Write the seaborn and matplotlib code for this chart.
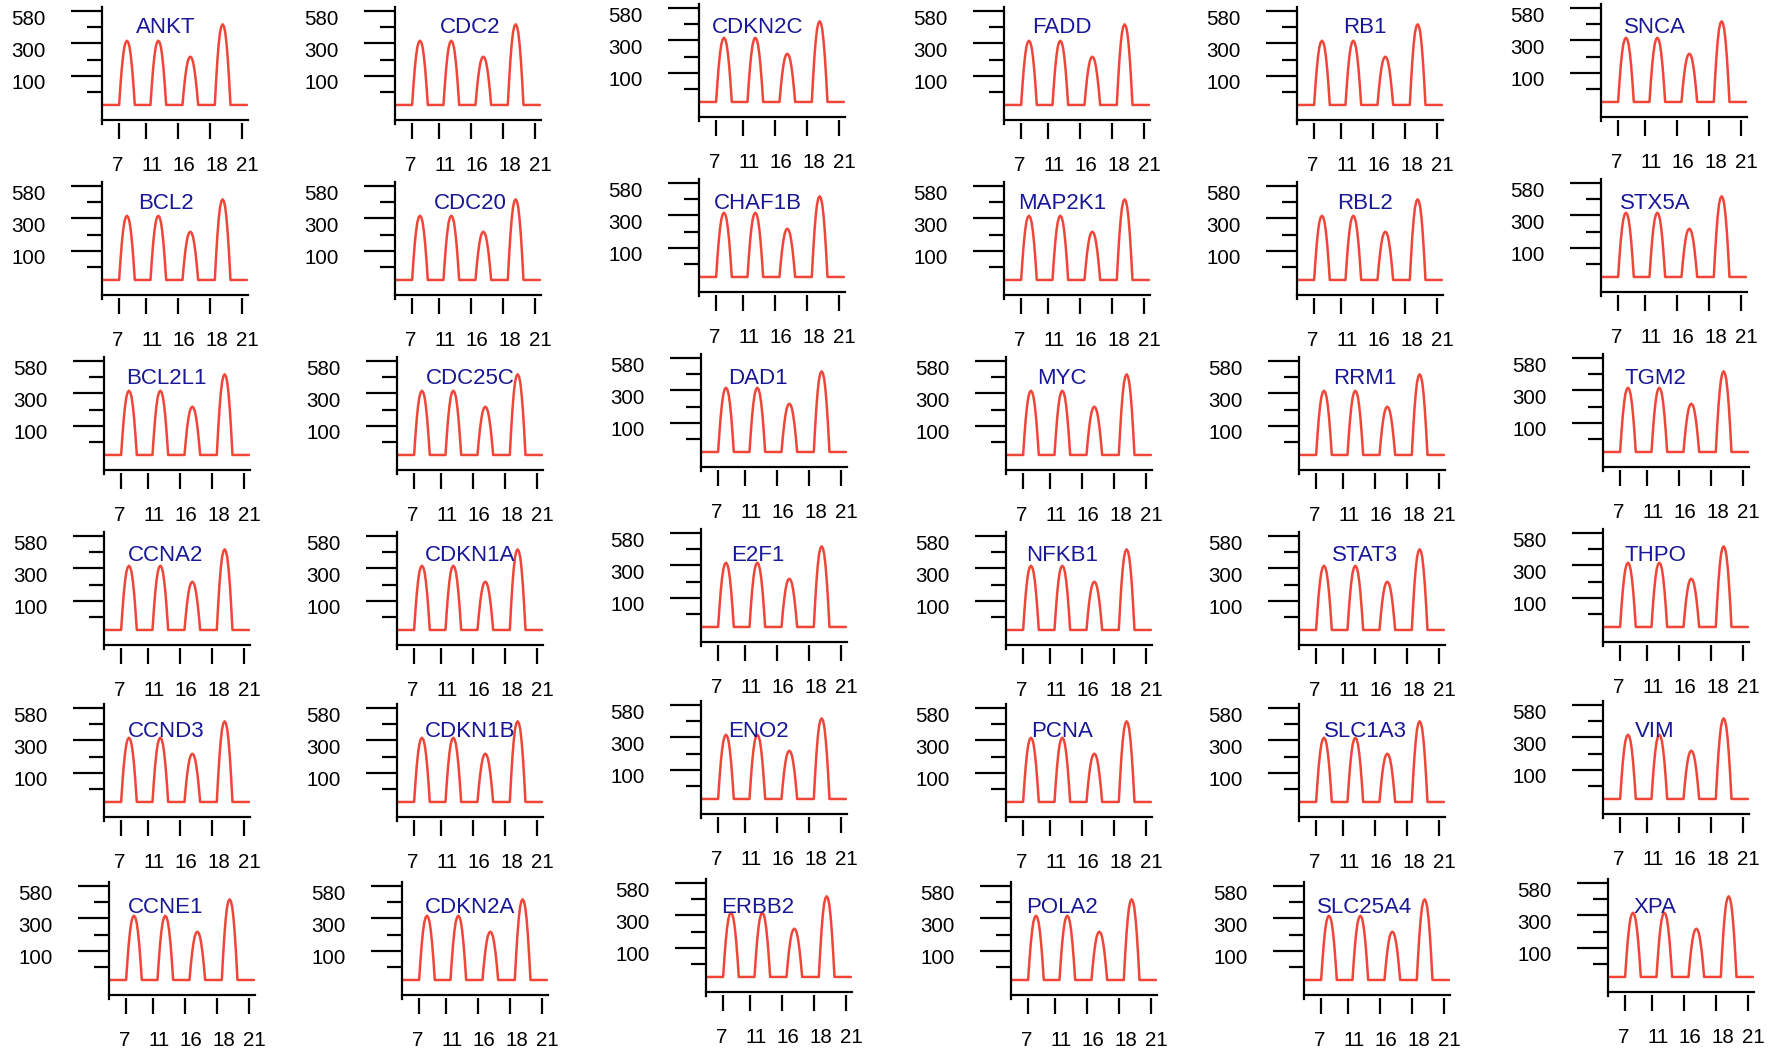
import numpy as np
import pandas as pd
import matplotlib
matplotlib.use("Agg")
import matplotlib.pyplot as plt
from matplotlib.ticker import FixedLocator, NullFormatter
from matplotlib.transforms import ScaledTranslation
import seaborn as sns

# ---------------------------------------------------------------- data
genes = [
    ["ANKT", "BCL2", "BCL2L1", "CCNA2", "CCND3", "CCNE1"],
    ["CDC2", "CDC20", "CDC25C", "CDKN1A", "CDKN1B", "CDKN2A"],
    ["CDKN2C", "CHAF1B", "DAD1", "E2F1", "ENO2", "ERBB2"],
    ["FADD", "MAP2K1", "MYC", "NFKB1", "PCNA", "POLA2"],
    ["RB1", "RBL2", "RRM1", "STAT3", "SLC1A3", "SLC25A4"],
    ["SNCA", "STX5A", "TGM2", "THPO", "VIM", "XPA"],
]
time_labels = ["7", "11", "16", "18", "21"]
y_tick_values = [100, 300, 580]

# expression pulses shared by every gene panel
baseline_level = 0
peak_heights = [323, 323, 218, 465]
peak_centres = [0.78, 1.76, 2.76, 3.77]
trace_start, trace_end = 0.0, 4.53

# outline of one pulse: offset from its centre and fraction of its height
bump_offsets = [-0.245, -0.204, -0.163, -0.122, -0.082, -0.041, 0.0,
                0.041, 0.082, 0.122, 0.163, 0.204, 0.245]
bump_shape = [0.0, 0.30, 0.56, 0.76, 0.90, 0.975, 1.0,
              0.975, 0.90, 0.76, 0.56, 0.30, 0.0]

# evenly spaced value axis: value -> tick step
scale_values = np.array([0.0, 100.0, 300.0, 580.0])
scale_steps = np.array([0.2, 2.0, 4.0, 6.0])


def _piecewise(v, src, dst):
    v = np.asarray(v, dtype=float)
    out = np.interp(v, src, dst)
    lo = dst[0] + (v - src[0]) * (dst[1] - dst[0]) / (src[1] - src[0])
    hi = dst[-1] + (v - src[-1]) * (dst[-1] - dst[-2]) / (src[-1] - src[-2])
    out = np.where(v < src[0], lo, out)
    out = np.where(v > src[-1], hi, out)
    return out


def to_step(v):
    return _piecewise(v, scale_values, scale_steps)


def to_value(s):
    return _piecewise(s, scale_steps, scale_values)


def pulse_profile():
    base = float(to_step(baseline_level))
    xs, steps = [trace_start], [base]
    for c, h in zip(peak_centres, peak_heights):
        top = float(to_step(h))
        for off, frac in zip(bump_offsets, bump_shape):
            xs.append(c + off)
            steps.append(base + frac * (top - base))
    xs.append(trace_end)
    steps.append(base)
    return pd.DataFrame({"time": xs, "expression": to_value(np.array(steps))})


profile = pulse_profile()

# ---------------------------------------------------------------- layout
W, H = 1778, 1050
col_x = [102, 395, 699, 1004, 1297, 1601]
col_dy = [0, 0, -3, 0, 0, -3]
row_y = [120, 295, 470, 645, 817, 995]
row_dx = [0, 0, 2, 2, 2, 7]
title_x = [166, 470, 758, 1062, 1365, 1655]
title_y = [25, 201, 376, 553, 729, 905]
panel_w, panel_h = 146, 113
tick_mark_pos = [0.52, 1.375, 2.366, 3.375, 4.375]
tick_label_pos = [0.49, 1.553, 2.572, 3.584, 4.553]

line_color = "#f0463a"
title_color = "#181896"

sns.set_theme(style="white")
plt.rcParams["font.family"] = ["Liberation Sans", "DejaVu Sans"]
plt.rcParams["axes.linewidth"] = 1.6

fig = plt.figure(figsize=(W / 100, H / 100), dpi=100)
label_shift = ScaledTranslation(0, -6 / 100, fig.dpi_scale_trans)

for c in range(6):
    for r in range(6):
        ox = col_x[c] + row_dx[r]
        oy = row_y[r] + col_dy[c]
        ax = fig.add_axes([ox / W, (H - oy) / H, panel_w / W, panel_h / H])
        ax.patch.set_visible(False)
        sns.lineplot(data=profile, x="time", y="expression", ax=ax,
                     color=line_color, linewidth=1.8, sort=False,
                     estimator=None)
        ax.set_yscale("function", functions=(to_step, to_value))
        ax.set_ylim(float(to_value(-0.728)), float(to_value(6.247)))
        ax.set_xlim(0, panel_w / 32)
        ax.set_xlabel("")
        ax.set_ylabel("")
        ax.set_xticks([])

        ax.yaxis.set_major_locator(FixedLocator(y_tick_values))
        ax.yaxis.set_minor_locator(FixedLocator(to_value([1.0, 3.0, 5.0])))
        ax.yaxis.set_minor_formatter(NullFormatter())
        ax.set_yticklabels([str(v) for v in y_tick_values])
        ax.tick_params(axis="y", which="major", left=True, length=22.3,
                       width=1.6, direction="out", pad=18.2, labelsize=14.8,
                       color="black", labelcolor="black")
        ax.tick_params(axis="y", which="minor", left=True, length=10.8,
                       width=1.6, direction="out", color="black")
        for lab in ax.get_yticklabels():
            lab.set_transform(lab.get_transform() + label_shift)

        for side in ("top", "right"):
            ax.spines[side].set_visible(False)
        for side in ("left", "bottom"):
            ax.spines[side].set_color("black")
        ax.spines["left"].set_bounds(float(to_value(-0.975)),
                                     float(to_value(6.247)))

        sec = ax.secondary_xaxis(-3 / panel_h)
        for sp in sec.spines.values():
            sp.set_visible(False)
        sec.set_xticks(tick_mark_pos, minor=True)
        sec.set_xticks(tick_label_pos, labels=time_labels)
        sec.tick_params(which="minor", length=11.5, width=1.6,
                        direction="out", color="black")
        sec.tick_params(which="major", length=0, pad=23.5, labelsize=14.8,
                        labelcolor="black")

        fig.text(title_x[c] / W, 1 - (title_y[r] + 7.8) / H, genes[c][r],
                 ha="center", va="baseline", fontsize=16, color=title_color)

fig.savefig("out.png", dpi=100)
